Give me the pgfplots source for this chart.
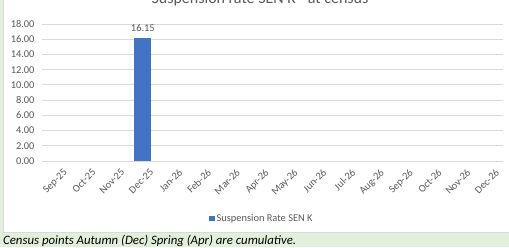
\documentclass[border=0pt]{standalone}
\usepackage{pgfplots}
\pgfplotsset{compat=1.18}
\usepackage{fontspec}
\setmainfont{Carlito}
\definecolor{bgreen}{HTML}{E2EFDA}
\definecolor{bordergray}{HTML}{D9D9D9}
\definecolor{gridgray}{HTML}{D9D9D9}
\definecolor{txtgray}{HTML}{595959}
\definecolor{barblue}{HTML}{4472C4}
\pgfdeclarelayer{background}
\pgfsetlayers{background,main}
\begin{document}
\begin{tikzpicture}[x=1pt,y=1pt]
\begin{axis}[
  name=ax,
  scale only axis, width=461pt, height=137pt,
  xmin=-0.5, xmax=15.5, ymin=0, ymax=18,
  ytick distance=2,
  xtick={0,...,15},
  xticklabels={Sep-25,Oct-25,Nov-25,Dec-25,Jan-26,Feb-26,Mar-26,Apr-26,May-26,Jun-26,Jul-26,Aug-26,Sep-26,Oct-26,Nov-26,Dec-26},
  axis line style={draw=none},
  major tick length=0pt,
  ymajorgrids, grid style={gridgray, line width=0.8pt},
  /pgf/number format/assume math mode=true,
  yticklabel={\pgfmathprintnumber[fixed,fixed zerofill,precision=2]{\tick}},
  yticklabel style={font=\fontsize{10.4}{12}\selectfont, text=txtgray, xshift=-4pt},
  xticklabel style={font=\fontsize{10.4}{12}\selectfont, text=txtgray, rotate=45, anchor=north east, inner sep=0.5pt, yshift=-9pt, xshift=0pt},
  legend style={at={(0.477,-0.42)}, anchor=center, draw=none, fill=none, font=\fontsize{10.4}{12}\selectfont, text=txtgray, inner sep=0pt},
  legend image code/.code={\fill[barblue] (0pt,-2.5pt) rectangle (5.5pt,3pt);},
]
\addplot[ybar, bar width=17pt, fill=barblue, draw=none,
  nodes near coords={\pgfmathprintnumber[fixed,precision=2]{\pgfplotspointmeta}},
  nodes near coords style={font=\fontsize{10.4}{12}\selectfont, text=txtgray, /pgf/number format/assume math mode=true, yshift=3pt}]
  coordinates {(3,16.15)};
\addlegendentry{Suspension Rate SEN K}
\end{axis}
\begin{scope}[shift={(ax.south west)}, shift={(-42,-86)}]
\begin{pgfonlayer}{background}
\fill[bgreen] (0,0) rectangle (509,247);
\filldraw[fill=white,draw=bordergray,line width=0.8pt] (3,15) rectangle (520,260);
\end{pgfonlayer}
\pgfresetboundingbox
\useasboundingbox (0,0) rectangle (509,247);
\node[anchor=base,font=\fontsize{16}{18}\selectfont,text=txtgray] at (260,243.5) {Suspension rate SEN K - at census};
\node[anchor=base west,font=\fontsize{12.8}{14}\selectfont\itshape,text=black,inner sep=0pt] at (3,3) {Census points Autumn (Dec) Spring (Apr) are cumulative.};
\end{scope}
\end{tikzpicture}
\end{document}
